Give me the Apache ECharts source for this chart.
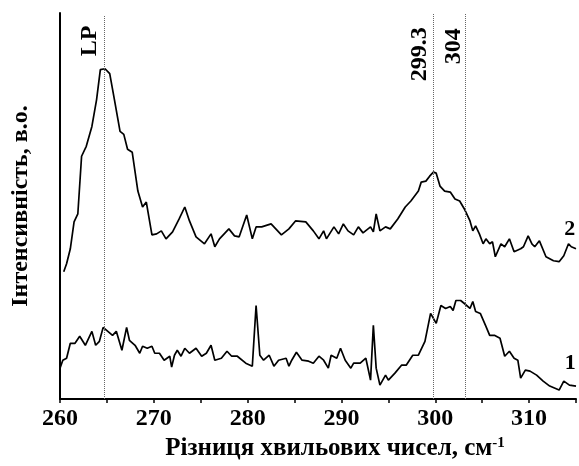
<!DOCTYPE html>
<html>
<head>
<meta charset="utf-8">
<script src="https://cdn.jsdelivr.net/npm/echarts@6/dist/echarts.min.js"></script>
<style>
html,body{margin:0;padding:0;background:#fff;}
#chart{width:579px;height:466px;}
</style>
</head>
<body>
<div id="chart"></div>
<script>
// Curve 1 (lower): Raman shift (cm-1) and intensity (a.u.)
var wn1 = [260.0,260.3,260.7,261.1,261.6,262.1,262.7,263.4,263.8,264.2,264.6,265.1,265.6,266.0,266.6,267.1,267.4,268.0,268.5,268.8,269.3,269.8,270.1,270.6,271.1,271.7,271.9,272.2,272.5,272.9,273.3,273.8,274.5,275.1,275.6,276.1,276.5,277.2,277.8,278.3,278.9,279.8,280.5,280.9,281.3,281.7,282.3,282.8,283.3,284.1,284.4,284.7,285.2,285.8,286.5,287.0,287.6,288.1,288.6,288.9,289.5,289.9,290.4,291.0,291.3,292.0,292.6,293.1,293.4,293.7,294.1,294.7,295.0,295.7,296.4,296.9,297.6,298.2,298.9,299.5,300.1,300.6,301.1,301.6,301.9,302.2,302.7,303.1,303.7,304.0,304.3,304.8,305.4,305.8,306.3,306.9,307.4,307.9,308.4,308.8,309.1,309.6,310.1,310.8,311.5,312.2,313.2,313.7,314.3,315.0];
var int1 = [31,39,41,56,56,63,54,68,54,58,72,68,64,68,49,72,59,54,46,53,51,53,46,46,39,43,32,44,49,43,51,46,51,43,46,54,39,41,48,43,43,36,33,94,44,39,44,33,39,41,33,39,47,39,38,36,43,39,31,44,41,51,39,31,36,36,41,19,74,31,14,24,19,26,34,34,44,44,58,86,76,94,91,93,89,99,99,96,91,98,88,86,73,64,64,61,43,48,41,39,21,29,28,24,18,13,9,18,14,13];

// Curve 2 (upper)
var wn2 = [260.4,260.7,261.1,261.5,261.9,262.3,262.8,263.4,263.9,264.3,264.8,265.3,265.8,266.4,266.8,267.2,267.7,268.3,268.8,269.2,269.8,270.3,270.8,271.3,272.0,272.7,273.3,273.8,274.5,275.4,276.1,276.5,277.0,278.0,278.6,279.1,279.9,280.5,280.9,281.5,282.5,283.0,283.6,284.4,285.1,286.2,287.0,287.6,288.1,288.4,289.2,289.7,290.2,290.7,291.3,291.8,292.3,293.1,293.4,293.7,294.1,294.7,295.2,296.0,296.8,297.4,298.2,298.5,299.0,299.4,299.8,300.1,300.5,301.0,301.6,302.1,302.6,303.1,303.7,304.0,304.3,304.7,305.1,305.4,305.8,306.1,306.4,307.0,307.4,307.9,308.4,309.1,309.4,309.9,310.3,310.6,311.1,311.8,312.6,313.2,313.7,314.2,314.5,315.0];
var int2 = [128,136,151,178,186,244,254,274,301,331,332,327,301,269,266,251,248,209,193,198,165,166,169,161,168,181,193,179,163,156,166,153,161,171,164,163,185,161,173,173,176,171,165,171,179,178,169,161,169,161,173,166,176,169,165,173,167,173,168,186,169,173,171,181,193,199,209,218,219,224,228,227,214,209,208,201,199,191,179,169,174,166,156,161,156,158,143,156,153,161,148,151,153,164,156,153,159,143,139,138,144,156,153,151];

// Marked positions (dotted lines) and their labels
var markX = [264.7, 299.8, 303.2];
var markTop = [386, 388, 388];
var markLabels = ['LP', '299.3', '304'];
var markLabelPos = [[263.2, 360], [298.4, 346.5], [302.0, 354.5]];

// Curve number labels
var curveLabels = ['1', '2'];
var curveLabelPos = [[314.4, 35.5], [314.33, 171]];

var xMin = 260, xMax = 315, xInterval = 5;

function pairs(xs, ys){ var d=[]; for(var i=0;i<xs.length;i++) d.push([xs[i], ys[i]]); return d; }

var FONT = '"Liberation Serif","Times New Roman",serif';
var chart = echarts.init(document.getElementById('chart'), null, {renderer:'canvas'});

var markLineData = markX.map(function(x,i){ return [{coord:[x,0]},{coord:[x,markTop[i]]}]; });
var annData = markLabels.map(function(t,i){ return {value:[markLabelPos[i][0], markLabelPos[i][1]], name:t}; });
var curveData = curveLabels.map(function(t,i){ return {value:[curveLabelPos[i][0], curveLabelPos[i][1]], name:t}; });

chart.setOption({
  animation:false,
  backgroundColor:'#fff',
  grid:{left:60, right:0, top:13, bottom:65, containLabel:false},
  xAxis:{
    type:'value', min:xMin, max:xMax, interval:xInterval,
    axisLine:{show:true, lineStyle:{color:'#000', width:2}},
    axisTick:{show:true, length:4, inside:false, lineStyle:{color:'#000', width:1.5}},
    axisLabel:{
      show:true, margin:8, color:'#000', fontFamily:FONT, fontWeight:'bold', fontSize:24,
      formatter:function(v){ return (v % 10 === 0) ? String(v) : ''; },
      showMaxLabel:true
    },
    splitLine:{show:false},
    name:'Різниця хвильових чисел, см{sup|-1}',
    nameLocation:'middle', nameGap:37,
    nameTextStyle:{color:'#000', fontFamily:FONT, fontWeight:'bold', fontSize:25, padding:[0,0,0,34],
      rich:{sup:{fontFamily:FONT, fontWeight:'bold', fontSize:15, verticalAlign:'top', color:'#000', padding:[0,0,10,0]}}}
  },
  yAxis:{
    type:'value', min:0, max:388,
    axisLine:{show:true, lineStyle:{color:'#000', width:2}},
    axisTick:{show:false}, axisLabel:{show:false}, splitLine:{show:false},
    name:'Інтенсивність, в.о.', nameLocation:'middle', nameGap:27, nameRotate:90,
    nameTextStyle:{color:'#000', fontFamily:FONT, fontWeight:'bold', fontSize:24}
  },
  series:[
    {type:'line', name:'1', data:pairs(wn1,int1), showSymbol:false, symbol:'none',
     lineStyle:{color:'#000', width:1.7}, silent:true},
    {type:'line', name:'2', data:pairs(wn2,int2), showSymbol:false, symbol:'none',
     lineStyle:{color:'#000', width:1.7}, silent:true},
    {type:'scatter', name:'marks', data:annData, symbolSize:0, clip:false, silent:true,
     itemStyle:{opacity:1, color:'#000'},
     label:{show:true, position:'inside', rotate:90, formatter:function(p){return p.name;}, opacity:1,
       color:'#000', textBorderWidth:0, fontFamily:FONT, fontWeight:'bold', fontSize:24},
     markLine:{silent:true, symbol:['none','none'], label:{show:false},
       lineStyle:{type:'dotted', color:'#666', width:1, opacity:1}, data:markLineData}},
    {type:'scatter', name:'curveLabels', data:curveData, symbolSize:0, clip:false, silent:true,
     itemStyle:{opacity:1, color:'#000'},
     label:{show:true, position:'inside', formatter:function(p){return p.name;}, opacity:1,
       color:'#000', textBorderWidth:0, fontFamily:FONT, fontWeight:'bold', fontSize:22}}
  ]
});
</script>
</body>
</html>
